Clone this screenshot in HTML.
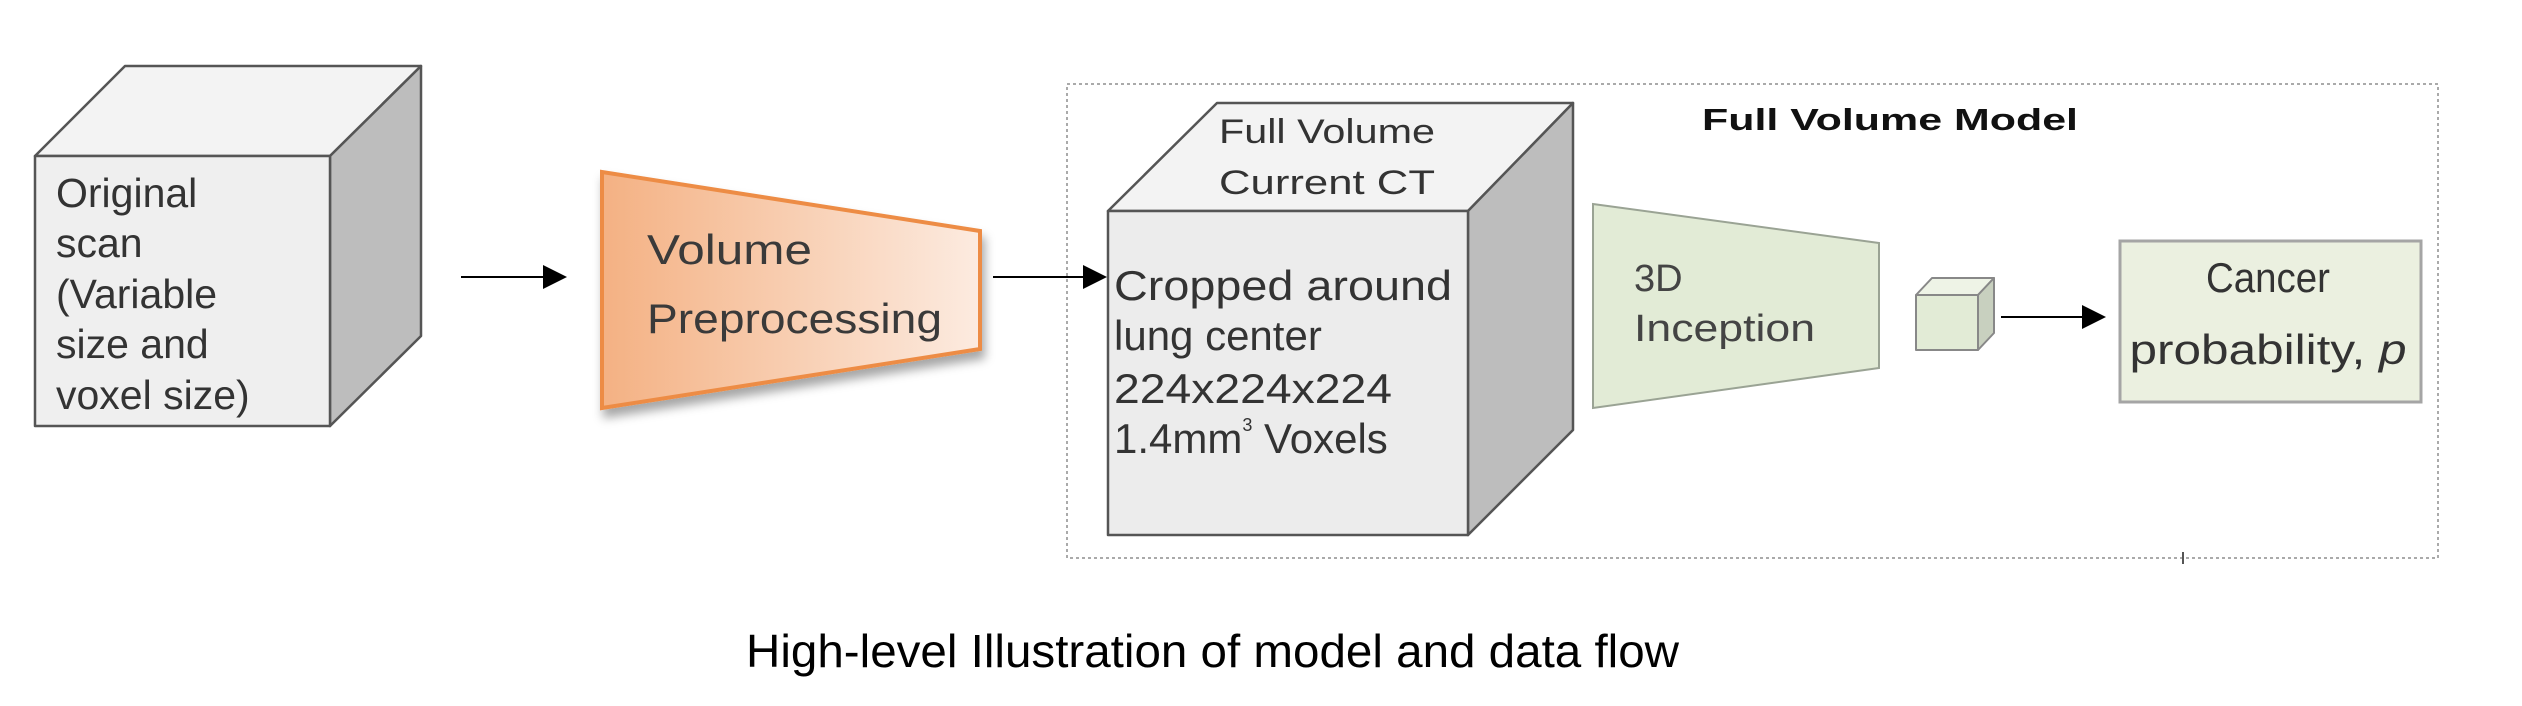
<!DOCTYPE html>
<html><head><meta charset="utf-8"><style>html,body{margin:0;padding:0;background:#fff}svg{display:block}</style></head>
<body>
<svg width="2522" height="706" viewBox="0 0 2522 706" xmlns="http://www.w3.org/2000/svg" font-family="Liberation Sans, sans-serif">
<defs>
<linearGradient id="og" x1="0" x2="1" y1="0" y2="0"><stop offset="0" stop-color="#f4b183"/><stop offset="1" stop-color="#fcebe0"/></linearGradient>
<filter id="sh" x="-10%" y="-10%" width="130%" height="140%"><feDropShadow dx="3" dy="8" stdDeviation="5" flood-color="#000" flood-opacity="0.35"/></filter>
</defs>
<rect width="2522" height="706" fill="#fff"/>
<!-- cube 1 -->
<g stroke="#555" stroke-width="2.5" stroke-linejoin="round">
<polygon points="35,156 125,66 421,66 330,156" fill="#f3f3f3"/>
<polygon points="330,156 421,66 421,336 330,426" fill="#bdbdbd"/>
<rect x="35" y="156" width="295" height="270" fill="#efefef"/>
</g>
<g font-size="41" fill="#333">
<text x="56" y="207">Original</text>
<text x="56" y="257">scan</text>
<text x="56" y="308">(Variable</text>
<text x="56" y="358">size and</text>
<text x="56" y="409">voxel size)</text>
</g>
<!-- arrow 1 -->
<line x1="461" y1="277" x2="545" y2="277" stroke="#000" stroke-width="2"/>
<polygon points="543,265 567,277 543,289" fill="#000"/>
<!-- orange trapezoid -->
<polygon points="602,172 980,231 980,349 602,408" fill="url(#og)" stroke="#ed8c45" stroke-width="4" filter="url(#sh)"/>
<g font-size="42" fill="#3a3a3a">
<text x="647" y="264" textLength="165" lengthAdjust="spacingAndGlyphs">Volume</text>
<text x="647" y="333" textLength="295" lengthAdjust="spacingAndGlyphs">Preprocessing</text>
</g>
<!-- arrow 2 -->
<line x1="993" y1="277" x2="1085" y2="277" stroke="#000" stroke-width="2"/>
<polygon points="1083,265 1107,277 1083,289" fill="#000"/>
<!-- dotted box -->
<rect x="1067" y="84" width="1371" height="474" fill="none" stroke="#aaa" stroke-width="2" stroke-dasharray="3,3"/>
<line x1="2183" y1="552" x2="2183" y2="564" stroke="#555" stroke-width="2"/>
<!-- cube 2 -->
<g stroke="#555" stroke-width="2.5" stroke-linejoin="round">
<polygon points="1108,211 1217,103 1573,103 1468,211" fill="#f3f3f3"/>
<polygon points="1468,211 1573,103 1573,430 1468,535" fill="#bdbdbd"/>
<rect x="1108" y="211" width="360" height="324" fill="#ececec"/>
</g>
<g font-size="34" fill="#333" text-anchor="middle">
<text x="1327" y="143" textLength="216" lengthAdjust="spacingAndGlyphs">Full Volume</text>
<text x="1327" y="194" textLength="216" lengthAdjust="spacingAndGlyphs">Current CT</text>
</g>
<g font-size="42" fill="#333">
<text x="1114" y="300" textLength="338" lengthAdjust="spacingAndGlyphs">Cropped around</text>
<text x="1114" y="350">lung center</text>
<text x="1114" y="403" textLength="278" lengthAdjust="spacingAndGlyphs">224x224x224</text>
<text x="1114" y="453">1.4mm<tspan font-size="18" dy="-22">3</tspan><tspan dy="22"> Voxels</tspan></text>
</g>
<text x="1702" y="130" font-size="31" font-weight="bold" fill="#111" textLength="376" lengthAdjust="spacingAndGlyphs">Full Volume Model</text>
<!-- green trapezoid -->
<polygon points="1593,204 1879,243 1879,368 1593,408" fill="#e2ebd6" stroke="#9aa394" stroke-width="2"/>
<g font-size="38" fill="#444">
<text x="1634" y="291">3D</text>
<text x="1634" y="341" textLength="181" lengthAdjust="spacingAndGlyphs">Inception</text>
</g>
<!-- small cube -->
<g stroke="#888" stroke-width="2" stroke-linejoin="round">
<polygon points="1916,295 1932,278 1994,278 1978,295" fill="#eef3e6"/>
<polygon points="1978,295 1994,278 1994,333 1978,350" fill="#c8d0bf"/>
<rect x="1916" y="295" width="62" height="55" fill="#e2ebd6"/>
</g>
<!-- arrow 3 -->
<line x1="2001" y1="317" x2="2084" y2="317" stroke="#000" stroke-width="2"/>
<polygon points="2082,305 2106,317 2082,329" fill="#000"/>
<!-- cancer box -->
<rect x="2120" y="241" width="301" height="161" fill="#ebf0e0" stroke="#a5a5a5" stroke-width="3"/>
<g font-size="42" fill="#333" text-anchor="middle">
<text x="2268" y="292" textLength="124" lengthAdjust="spacingAndGlyphs">Cancer</text>
<text x="2268" y="364" textLength="277" lengthAdjust="spacingAndGlyphs">probability, <tspan font-style="italic">p</tspan></text>
</g>
<!-- caption -->
<text x="746" y="667" font-size="46" fill="#000" textLength="933" lengthAdjust="spacingAndGlyphs">High-level Illustration of model and data flow</text>
</svg>
</body></html>
